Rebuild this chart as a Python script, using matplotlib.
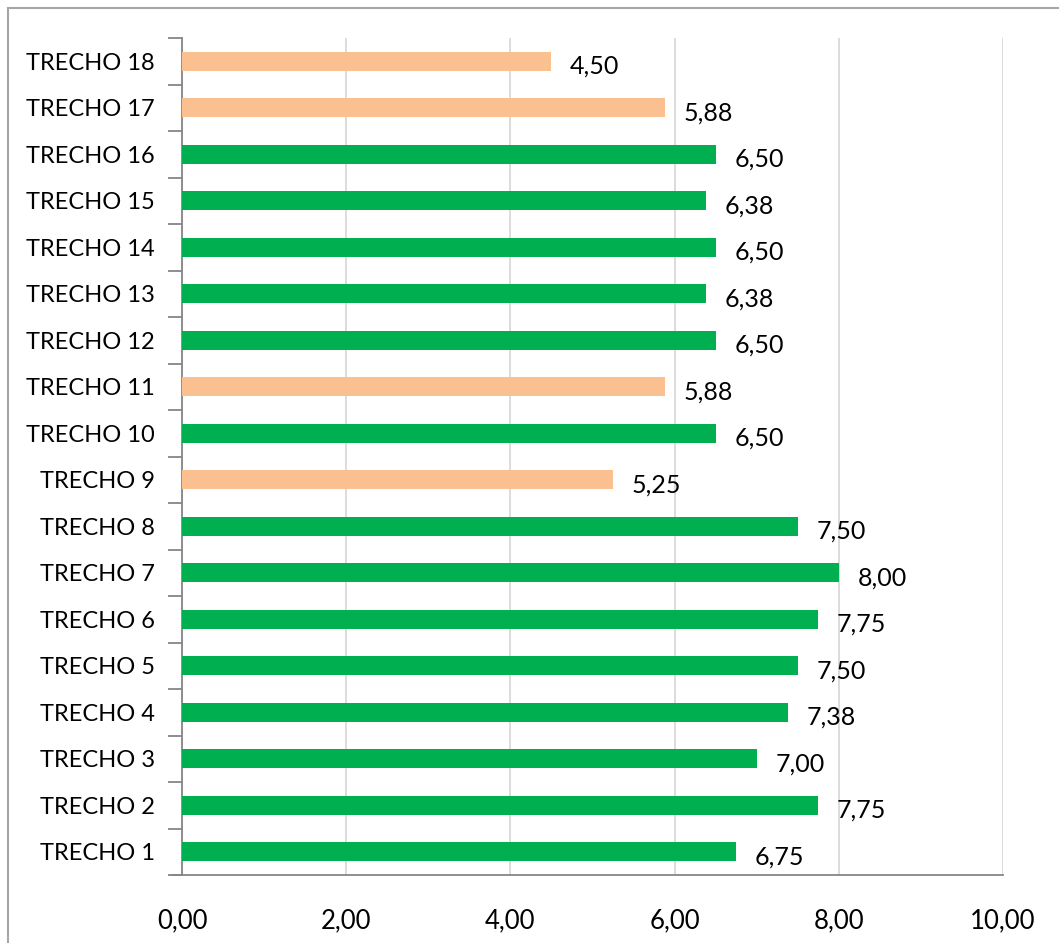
import matplotlib
matplotlib.use("Agg")
import matplotlib.pyplot as plt
from matplotlib.patches import Rectangle
from matplotlib.ticker import FixedLocator

categories = [f"TRECHO {i}" for i in range(1, 19)]
values = [6.75, 7.75, 7.00, 7.38, 7.50, 7.75, 8.00, 7.50, 5.25,
          6.50, 5.88, 6.50, 6.38, 6.50, 6.38, 6.50, 5.88, 4.50]
highlight = ["TRECHO 9", "TRECHO 11", "TRECHO 17", "TRECHO 18"]
x_ticks = [0, 2, 4, 6, 8, 10]

GREEN = "#00B050"
ORANGE = "#FAC090"

plt.rcParams['font.family'] = ['Lato', 'DejaVu Sans']

W, H = 1059, 943
fig = plt.figure(figsize=(W / 100, H / 100), dpi=100)
ax = fig.add_axes([182 / W, 1 - 875 / H, (1003 - 182) / W, (875 - 38) / H])

colors = [ORANGE if c in highlight else GREEN for c in categories]
ypos = list(range(len(categories)))
ax.barh(ypos, values, height=0.4, color=colors, zorder=3)

for y, v in zip(ypos, values):
    ax.annotate(f"{v:.2f}".replace(".", ","), (v, y), xytext=(13.5, -3.5),
                textcoords="offset points", ha="left", va="center",
                fontsize=18, color="black", zorder=4)

ax.set_xlim(0, 10)
ax.set_ylim(-0.5, len(categories) - 0.5)
ax.set_xticks(x_ticks)
ax.set_xticklabels([f"{t:.2f}".replace(".", ",") for t in x_ticks], fontsize=18.5)
ax.tick_params(axis="x", length=0, pad=24)
ax.set_yticks(ypos)
ax.set_yticklabels(categories, fontsize=17)
ax.yaxis.set_minor_locator(FixedLocator([i - 0.5 for i in range(len(categories) + 1)]))
ax.tick_params(axis="y", which="major", length=0, pad=19.5)
ax.tick_params(axis="y", which="minor", length=10, width=1.3, color="#868686", direction="out")

ax.grid(axis="x", color="#D9D9D9", linewidth=1.3, zorder=0)
for s in ["top", "right"]:
    ax.spines[s].set_visible(False)
for s in ["left", "bottom"]:
    ax.spines[s].set_color("#868686")
    ax.spines[s].set_linewidth(1.3)
ax.spines["bottom"].set_bounds(-0.12, 10)
ax.spines["bottom"].set_clip_on(False)

fig.patches.append(Rectangle((8 / W, -0.1), 1.2, 1.1 - 8 / H,
                             transform=fig.transFigure, fill=False,
                             edgecolor="#A6A6A6", linewidth=1.5))

fig.savefig("out.png", dpi=100)
